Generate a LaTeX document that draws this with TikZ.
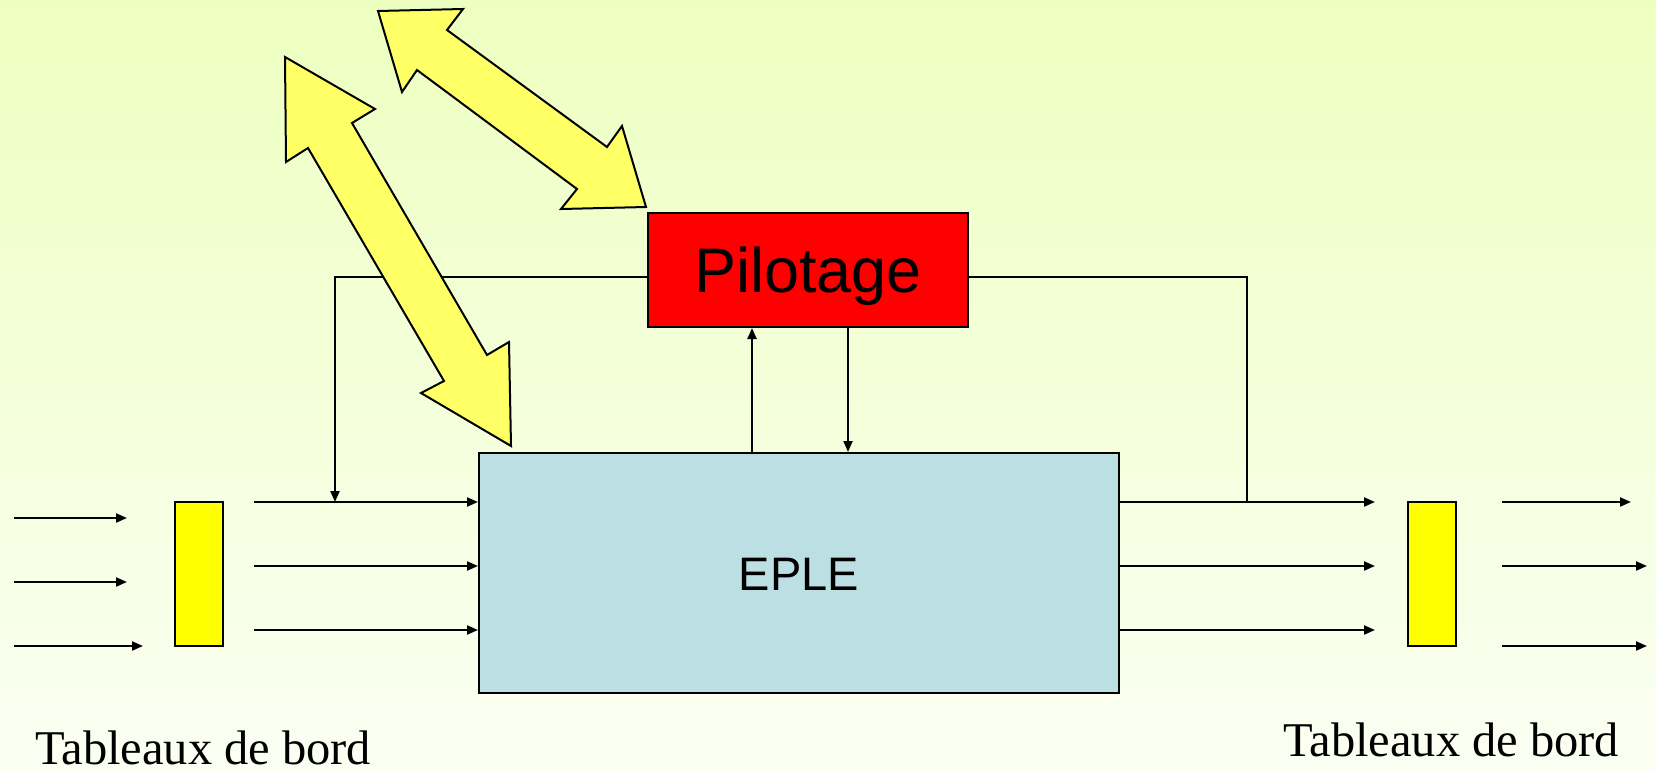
\documentclass[tikz,border=0pt]{standalone}
\usepackage{fontspec}
\setmainfont{Liberation Serif}
\newfontfamily\arialfont{Liberation Sans}
\usetikzlibrary{arrows.meta,positioning}
\definecolor{bgtop}{HTML}{EDFFC0}
\definecolor{bgbot}{HTML}{FBFFF3}
\definecolor{pilred}{HTML}{FF0000}
\definecolor{eplebleu}{HTML}{BBDFE3}
\definecolor{barjaune}{HTML}{FFFF00}
\definecolor{flechejaune}{HTML}{FFFF66}

\begin{document}
\begin{tikzpicture}[x=1pt,y=-1pt,
  boite/.style={draw=black,line width=2pt,inner sep=0pt},
  barre/.style={boite,fill=barjaune,minimum width=48pt,minimum height=144pt},
  arr/.style={-{Triangle[length=11pt,width=9pt]},line width=2.2pt},
  lien/.style={line width=2.2pt},
  bloc/.style={draw=black,line width=2pt,fill=flechejaune,line join=miter},
  legende/.style={anchor=base west,inner sep=0pt,font=\fontsize{48.5}{58}\selectfont}
]
\shade[top color=bgtop,bottom color=bgbot] (0,0) rectangle (1656,771);
\useasboundingbox (0,0) rectangle (1656,771);

\node[boite,fill=pilred,minimum width=320pt,minimum height=114pt,
  font=\arialfont\fontsize{63}{70}\selectfont,text height=45pt,text depth=0pt] (pil) at (808,270) {Pilotage};
\node[boite,fill=eplebleu,minimum width=640pt,minimum height=240pt,
  font=\arialfont\fontsize{47}{56}\selectfont,text height=34pt,text depth=0pt] (eple) at (799,573) {EPLE};
\node[barre] (bg) at (199,574) {};
\node[barre] (bd) at (1431.5,574) {};

% flux entrants et sortants
\coordinate (g1) at (14,518);  \coordinate (g1e) at (127,518);
\coordinate (g2) at (14,582);  \coordinate (g2e) at (127,582);
\coordinate (g3) at (14,646);  \coordinate (g3e) at (143,646);
\draw[arr] (g1) -- (g1e);
\draw[arr] (g2) -- (g2e);
\draw[arr] (g3) -- (g3e);
\foreach \y/\n in {502/1,566/2,630/3} {
  \coordinate (ea\n) at (254,\y);
  \coordinate (sa\n) at (1375,\y);
  \draw[arr] (ea\n) -- (eple.west |- ea\n);
  \draw[arr] (eple.east |- ea\n) -- (sa\n);
}
\coordinate (d1) at (1502,502); \coordinate (d1e) at (1631,502);
\coordinate (d2) at (1502,566); \coordinate (d2e) at (1647,566);
\coordinate (d3) at (1502,646); \coordinate (d3e) at (1647,646);
\draw[arr] (d1) -- (d1e);
\draw[arr] (d2) -- (d2e);
\draw[arr] (d3) -- (d3e);

% boucles de pilotage
\coordinate (jg) at (335,502);
\coordinate (jd) at (1247,502);
\draw[arr] (pil.west |- 0,277) -| (jg);
\draw[lien] (pil.east |- 0,277) -| (jd);
\draw[arr] (eple.north -| 752,0) -- (pil.south -| 752,0);
\draw[arr] (pil.south -| 848,0) -- (eple.north -| 848,0);

% grandes fleches doubles
\draw[bloc] (378,11) -- (463,9) -- (447,30) -- (607,147) -- (622,126) -- (646,207)
  -- (561,209) -- (577,189) -- (417,70) -- (402,92) -- cycle;
\draw[bloc] (285,57) -- (375,109) -- (352,123) -- (487,355) -- (509,342) -- (511,446)
  -- (421,393) -- (444,381) -- (308,148) -- (286,162) -- cycle;

\node[legende] (tbg) at (35,764) {Tableaux de bord};
\node[legende] (tbd) at (1283,756) {Tableaux de bord};
\end{tikzpicture}
\end{document}
